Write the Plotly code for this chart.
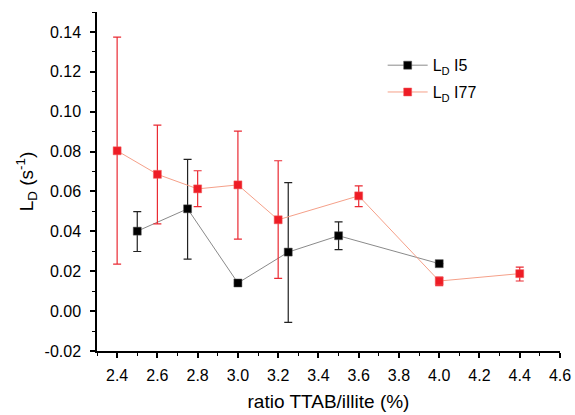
import plotly.graph_objects as go

# ---- data ----
x_i5 = [2.5, 2.75, 3.0, 3.25, 3.5, 4.0]
y_i5 = [0.0401, 0.0513, 0.0141, 0.0296, 0.0378, 0.0238]
err_i5_plus = [0.0098, 0.0248, 0.0, 0.0348, 0.0070, 0.0]
err_i5_minus = [0.0102, 0.0252, 0.0, 0.0352, 0.0070, 0.0]

x_i77 = [2.4, 2.6, 2.8, 3.0, 3.2, 3.6, 4.0, 4.4]
y_i77 = [0.0804, 0.0686, 0.0613, 0.0633, 0.0458, 0.0578, 0.0151, 0.0188]
err_i77_plus = [0.0570, 0.0247, 0.0091, 0.0270, 0.0296, 0.0050, 0.0020, 0.0033]
err_i77_minus = [0.0568, 0.0248, 0.0089, 0.0272, 0.0294, 0.0054, 0.0023, 0.0037]

y_tickvals = [-0.02, 0.0, 0.02, 0.04, 0.06, 0.08, 0.10, 0.12, 0.14]
y_ticktext = ["-0.02", "0.00", "0.02", "0.04", "0.06", "0.08", "0.10", "0.12", "0.14"]
x_tickvals = [2.4, 2.6, 2.8, 3.0, 3.2, 3.4, 3.6, 3.8, 4.0, 4.2, 4.4, 4.6]
x_ticktext = ["2.4", "2.6", "2.8", "3.0", "3.2", "3.4", "3.6", "3.8", "4.0", "4.2", "4.4", "4.6"]

FONT = "Liberation Sans, Arial, Helvetica, sans-serif"

fig = go.Figure()

fig.add_trace(go.Scatter(
    x=x_i5, y=y_i5, mode="lines+markers", name="L<sub>D</sub> I5",
    legendgroup="a",
    line=dict(color="#8a8a8a", width=1),
    marker=dict(symbol="square", size=8, color="#000000",
                line=dict(color="#555555", width=0.5)),
    error_y=dict(type="data", array=err_i5_plus, arrayminus=err_i5_minus,
                 color="#222222", thickness=1.2, width=4),
))

fig.add_trace(go.Scatter(
    x=x_i77, y=y_i77, mode="lines+markers", name="L<sub>D</sub> I77",
    legendgroup="b",
    line=dict(color="#f5a089", width=1),
    marker=dict(symbol="square", size=8, color="#ee1c25",
                line=dict(color="#f06060", width=0.5)),
    error_y=dict(type="data", array=err_i77_plus, arrayminus=err_i77_minus,
                 color="#ea2a33", thickness=1.2, width=4),
))

fig.update_layout(
    width=575, height=415,
    margin=dict(l=97, r=15, t=12, b=64),
    plot_bgcolor="white", paper_bgcolor="white",
    font=dict(family=FONT, color="black", size=16),
    showlegend=True,
    legend=dict(x=0.617, y=0.893, xanchor="left", yanchor="top",
                bgcolor="rgba(0,0,0,0)", font=dict(size=16, family=FONT),
                tracegroupgap=3, itemwidth=40),
    xaxis=dict(
        range=[2.3, 4.6], showgrid=False, zeroline=False, automargin=False,
        showline=True, linecolor="black", linewidth=1.5,
        ticks="outside", ticklen=5, tickwidth=1.5, tickcolor="black",
        tickmode="array", tickvals=x_tickvals, ticktext=x_ticktext,
        tickfont=dict(size=16, family=FONT), ticklabelstandoff=4,
        minor=dict(ticks="outside", ticklen=3, tickwidth=1.2, tickcolor="black",
                   tickmode="linear", tick0=2.3, dtick=0.1),
        title=dict(text="ratio TTAB/illite (%)", font=dict(size=19, family=FONT), standoff=12),
    ),
    yaxis=dict(
        range=[-0.02, 0.15], showgrid=False, zeroline=False, automargin=False,
        showline=True, linecolor="black", linewidth=1.5,
        ticks="outside", ticklen=5, tickwidth=1.5, tickcolor="black",
        tickmode="array", tickvals=y_tickvals, ticktext=y_ticktext,
        tickfont=dict(size=16, family=FONT), ticklabelstandoff=6,
        minor=dict(ticks="outside", ticklen=3, tickwidth=1.2, tickcolor="black",
                   tickmode="linear", tick0=-0.02, dtick=0.01),
        title=dict(text="L<sub>D</sub> (s<sup>-1</sup>)", font=dict(size=19, family=FONT), standoff=6),
    ),
)

fig.write_html(
    "out.html",
    config={"displayModeBar": False},
    post_script="document.body.style.margin='0';document.body.style.overflow='hidden';",
)
